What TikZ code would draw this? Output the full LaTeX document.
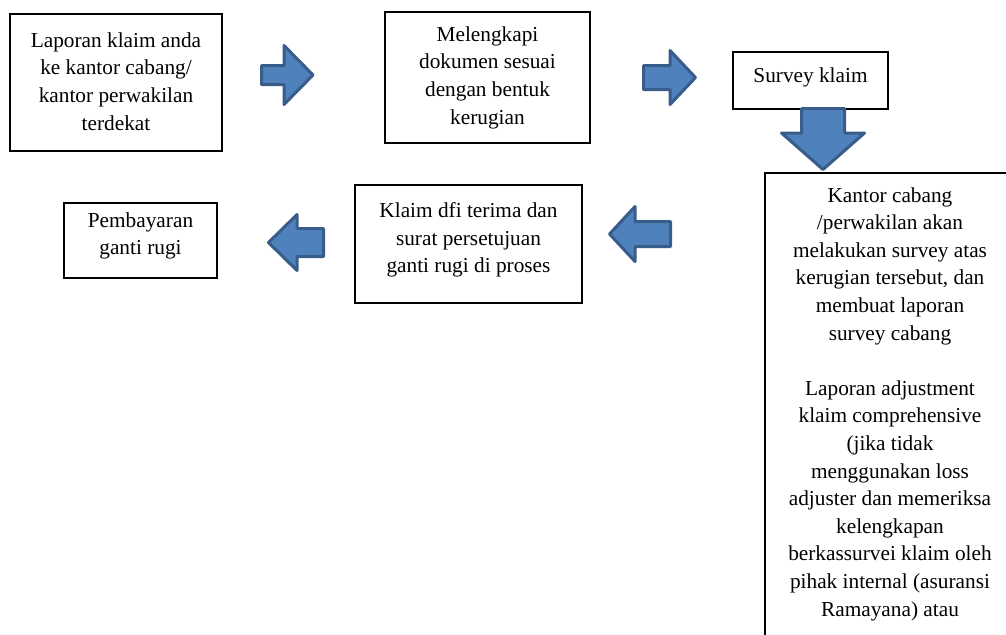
\documentclass[tikz,border=0pt]{standalone}
\usepackage{fontspec}
\setmainfont{Liberation Serif}
\definecolor{arrowfill}{HTML}{4F81BD}
\definecolor{arrowline}{HTML}{385D8A}
\tikzset{
  box/.style={draw=black, line width=0.6pt, inner sep=0pt, fill=white},
  txt/.style={align=center, inner sep=0pt, font=\fontsize{10.65}{13.8}\selectfont},
  blockarrow/.style={fill=arrowfill, draw=arrowline, line width=1.5pt, line join=round},
}
\begin{document}
\begin{tikzpicture}[x=0.5pt,y=-0.5pt]
\useasboundingbox (0,0) rectangle (1006,634);
\fill[white] (0,0) rectangle (1006,634);
\clip (0,0) rectangle (1006,634);

% boxes
\node[box, minimum width=106pt, minimum height=68.5pt] (b1) at (116,82.5) {};
\node[txt] (t1) at (116,81.5) {Laporan klaim anda\\ke kantor cabang/\\kantor perwakilan\\terdekat};

\node[box, minimum width=102.5pt, minimum height=65.5pt] (b2) at (487.5,77.5) {};
\node[txt] (t2) at (487.5,77.5) {Melengkapi\\dokumen sesuai\\dengan bentuk\\kerugian};

\node[box, minimum width=77.5pt, minimum height=28.5pt] (b3) at (810.5,80.5) {};
\node[txt] (t3) at (810.5,77) {Survey klaim};

\node[box, minimum width=125pt, minimum height=263.5pt] (b4) at (890,436.5) {};
\node[txt] (t4) at (890,404) {Kantor cabang\\/perwakilan akan\\melakukan survey atas\\kerugian tersebut, dan\\membuat laporan\\survey cabang\\[13.8pt]Laporan adjustment\\klaim comprehensive\\(jika tidak\\menggunakan loss\\adjuster dan memeriksa\\kelengkapan\\berkassurvei klaim oleh\\pihak internal (asuransi\\Ramayana) atau};

\node[box, minimum width=113.5pt, minimum height=59pt] (b5) at (468.5,244) {};
\node[txt] (t5) at (468.5,240) {Klaim dfi terima dan\\surat persetujuan\\ganti rugi di proses};

\node[box, minimum width=76.5pt, minimum height=37.5pt] (b6) at (140.5,240.5) {};
\node[txt] (t6) at (140.5,236) {Pembayaran\\ganti rugi};

% block arrows
% right arrow 1
\draw[blockarrow] (261.5,65.5) -- (284,65.5) -- (284,45.5) -- (313,75) -- (284,104.5) -- (284,84.5) -- (261.5,84.5) -- cycle;
% right arrow 2
\draw[blockarrow] (643.5,65.5) -- (670,65.5) -- (670,50.5) -- (695.5,77.5) -- (670,104.5) -- (670,89.5) -- (643.5,89.5) -- cycle;
% down arrow
\draw[blockarrow] (801.5,108.5) -- (844.5,108.5) -- (844.5,133) -- (864.5,133) -- (823,169.5) -- (781.5,133) -- (801.5,133) -- cycle;
% left arrow 4
\draw[blockarrow] (670.5,221.5) -- (635,221.5) -- (635,206.5) -- (609.5,234) -- (635,261.5) -- (635,246.5) -- (670.5,246.5) -- cycle;
% left arrow 5
\draw[blockarrow] (323.5,228.5) -- (297,228.5) -- (297,214.5) -- (268.5,242.5) -- (297,270.5) -- (297,256.5) -- (323.5,256.5) -- cycle;
\end{tikzpicture}
\end{document}
